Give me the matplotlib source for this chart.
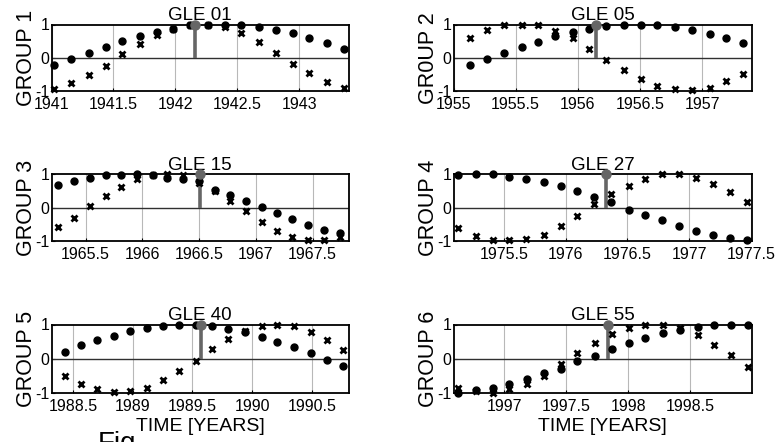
import matplotlib
matplotlib.use("Agg")
import matplotlib.pyplot as plt
from matplotlib.ticker import FixedLocator, FixedFormatter

plt.rcParams['font.family'] = ['Liberation Sans', 'DejaVu Sans']

titles = ["GLE 01", "GLE 05", "GLE 15", "GLE 27", "GLE 40", "GLE 55"]
ylabels = ["GROUP 1", "GR0UP 2", "GROUP 3", "GROUP 4", "GROUP 5", "GROUP 6"]
gle_times = [1942.158, 1956.147, 1966.51, 1976.326, 1989.568, 1997.838]
xlims = [(1941.0, 1943.4), (1955.0, 1957.4), (1965.2, 1967.82),
         (1975.09, 1977.51), (1988.32, 1990.81), (1996.59, 1999.0)]
xticks = [[1941, 1941.5, 1942, 1942.5, 1943],
          [1955, 1955.5, 1956, 1956.5, 1957],
          [1965.5, 1966, 1966.5, 1967, 1967.5],
          [1975.5, 1976, 1976.5, 1977, 1977.5],
          [1988.5, 1989, 1989.5, 1990, 1990.5],
          [1997, 1997.5, 1998, 1998.5]]

t1 = [1941.02, 1941.16, 1941.30, 1941.44, 1941.57, 1941.71, 1941.85, 1941.98, 1942.12,
      1942.26, 1942.40, 1942.53, 1942.67, 1942.81, 1942.95, 1943.08, 1943.22, 1943.36]
c1 = [-0.21, -0.04, 0.14, 0.33, 0.51, 0.66, 0.78, 0.87, 0.97,
      1.0, 1.0, 0.98, 0.92, 0.84, 0.73, 0.58, 0.43, 0.26]
x1 = [-0.95, -0.76, -0.52, -0.24, 0.11, 0.41, 0.69, 0.86, 0.97,
      1.0, 0.92, 0.74, 0.46, 0.14, -0.18, -0.46, -0.73, -0.92]

t2 = [1955.13, 1955.27, 1955.41, 1955.55, 1955.68, 1955.82, 1955.96, 1956.09, 1956.23,
      1956.37, 1956.51, 1956.64, 1956.78, 1956.92, 1957.06, 1957.19, 1957.33]
c2 = [-0.23, -0.04, 0.14, 0.31, 0.47, 0.65, 0.77, 0.86, 0.94,
      0.99, 1.0, 0.99, 0.92, 0.84, 0.71, 0.59, 0.43]
x2 = [0.59, 0.82, 0.98, 1.0, 0.97, 0.80, 0.58, 0.26, -0.06,
      -0.38, -0.64, -0.84, -0.94, -0.96, -0.91, -0.71, -0.48]

t3 = [1965.26, 1965.40, 1965.54, 1965.68, 1965.81, 1965.95, 1966.09, 1966.22, 1966.36,
      1966.50, 1966.64, 1966.77, 1966.91, 1967.05, 1967.19, 1967.32, 1967.46, 1967.60, 1967.74]
c3 = [0.66, 0.79, 0.87, 0.96, 0.98, 0.99, 0.98, 0.89, 0.84,
      0.78, 0.53, 0.37, 0.19, 0.02, -0.16, -0.34, -0.51, -0.66, -0.77]
x3 = [-0.58, -0.31, 0.04, 0.34, 0.62, 0.86, 0.98, 1.0, 0.97,
      0.74, 0.49, 0.19, -0.11, -0.43, -0.69, -0.88, -0.96, -0.96, -0.88]

t4 = [1975.13, 1975.27, 1975.41, 1975.54, 1975.68, 1975.82, 1975.96, 1976.09, 1976.23,
      1976.37, 1976.51, 1976.64, 1976.78, 1976.92, 1977.06, 1977.19, 1977.33, 1977.47]
c4 = [0.96, 0.99, 0.99, 0.92, 0.86, 0.77, 0.64, 0.49, 0.32,
      0.16, -0.06, -0.21, -0.38, -0.56, -0.71, -0.83, -0.91, -0.98]
x4 = [-0.61, -0.84, -0.96, -0.98, -0.94, -0.81, -0.56, -0.26, 0.09,
      0.39, 0.64, 0.86, 0.99, 0.99, 0.89, 0.71, 0.46, 0.16]

t5 = [1988.43, 1988.57, 1988.70, 1988.84, 1988.98, 1989.12, 1989.25, 1989.39, 1989.53,
      1989.66, 1989.80, 1989.94, 1990.08, 1990.21, 1990.35, 1990.49, 1990.63, 1990.76]
c5 = [0.21, 0.39, 0.56, 0.67, 0.80, 0.90, 0.95, 0.98, 0.99,
      0.95, 0.88, 0.78, 0.63, 0.49, 0.33, 0.17, -0.03, -0.20]
x5 = [-0.50, -0.74, -0.89, -0.96, -0.94, -0.84, -0.61, -0.36, -0.06,
      0.28, 0.59, 0.82, 0.95, 1.0, 0.95, 0.78, 0.56, 0.26]

t6 = [1996.63, 1996.77, 1996.91, 1997.04, 1997.18, 1997.32, 1997.46, 1997.59, 1997.73,
      1997.87, 1998.01, 1998.14, 1998.28, 1998.42, 1998.56, 1998.69, 1998.83, 1998.97]
c6 = [-1.0, -0.91, -0.86, -0.74, -0.59, -0.42, -0.29, -0.08, 0.09,
      0.28, 0.46, 0.61, 0.75, 0.85, 0.93, 0.98, 0.98, 1.0]
x6 = [-0.84, -0.94, -1.0, -0.89, -0.73, -0.49, -0.15, 0.17, 0.46,
      0.73, 0.90, 1.0, 1.0, 0.90, 0.68, 0.39, 0.10, -0.25]

times = [t1, t2, t3, t4, t5, t6]
circles = [c1, c2, c3, c4, c5, c6]
crosses = [x1, x2, x3, x4, x5, x6]

W, H = 781, 442
fig = plt.figure(figsize=(W / 100, H / 100), dpi=100)

lefts = [51.5, 453.5]
widths = [297.5, 298.5]
rows = [(24.5, 91.0), (174.0, 241.0), (324.5, 393.0)]

for i in range(6):
    r, c = divmod(i, 2)
    top, bot = rows[r]
    ax = fig.add_axes([lefts[c] / W, (H - bot) / H, widths[c] / W, (bot - top) / H])
    ax.set_xlim(*xlims[i])
    ax.set_ylim(-1, 1)
    ax.xaxis.set_major_locator(FixedLocator(xticks[i]))
    ax.xaxis.set_major_formatter(FixedFormatter(['%g' % v for v in xticks[i]]))
    ax.set_yticks([-1, 0, 1])
    ax.set_yticklabels(['-1', '0', '1'])
    ax.tick_params(direction='in', length=2, width=0.8, labelsize=11.5)
    ax.tick_params(axis='x', pad=4)
    ax.tick_params(axis='y', pad=1.5)
    ax.grid(True, axis='x', color='#b8b8b8', linewidth=0.8)
    ax.set_axisbelow(True)
    for s in ax.spines.values():
        s.set_linewidth(1.3)
    ax.axhline(0, color='#303030', linewidth=1.0, zorder=1)
    ax.vlines(gle_times[i], 0, 1, color='#666666', linewidth=2.6, zorder=2)
    ax.plot([gle_times[i]], [1], 'o', color='#666666', markersize=6.5, zorder=5, clip_on=False)
    ax.plot(times[i], circles[i], 'o', color='black', markersize=5, linestyle='none',
            zorder=3, clip_on=False)
    ax.plot(times[i], crosses[i], 'x', color='black', markersize=5, markeredgewidth=2.0,
            linestyle='none', zorder=4, clip_on=False)
    ax.set_title(titles[i], fontsize=13.5, pad=3)
    ax.set_ylabel(ylabels[i], fontsize=15.5, labelpad=-1)
    if r == 2:
        ax.set_xlabel("TIME [YEARS]", fontsize=14, labelpad=3)

fig.text(98 / W, (H - 431) / H, "Fig.", fontsize=20, va='top', ha='left')

fig.savefig("out.png", dpi=100)
